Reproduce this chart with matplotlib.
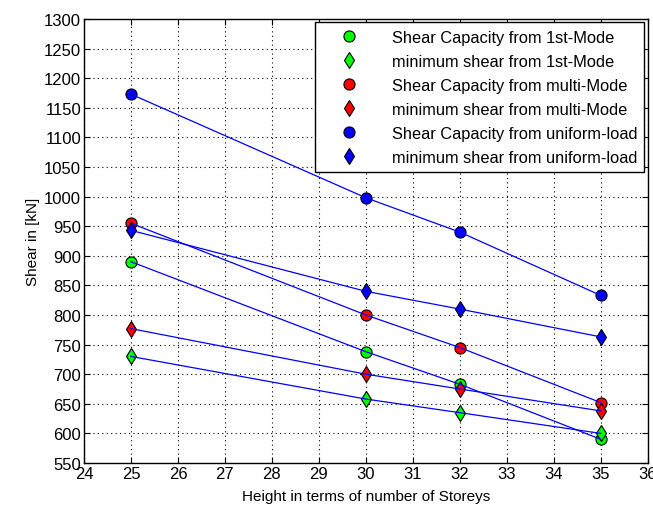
import numpy as np
import matplotlib
matplotlib.use('Agg')
import matplotlib.pyplot as plt

plt.rcParams['font.family'] = ['Liberation Sans', 'DejaVu Sans']

storeys = [25, 30, 32, 35]
cap_1st = [890, 738, 683, 590]
min_1st = [730, 658, 635, 600]
cap_multi = [955, 800, 745, 652]
min_multi = [777, 700, 675, 638]
cap_uniform = [1173, 998, 940, 833]
min_uniform = [943, 840, 810, 763]

series = [
    (cap_1st, 'o', '#00ff00', 'Shear Capacity from 1st-Mode'),
    (min_1st, 'd', '#00ff00', 'minimum shear from 1st-Mode'),
    (cap_multi, 'o', '#ff0000', 'Shear Capacity from multi-Mode'),
    (min_multi, 'd', '#ff0000', 'minimum shear from multi-Mode'),
    (cap_uniform, 'o', '#0000ff', 'Shear Capacity from uniform-load'),
    (min_uniform, 'd', '#0000ff', 'minimum shear from uniform-load'),
]

fig = plt.figure(figsize=(6.53, 5.10), dpi=100)
ax = fig.add_axes([0.1286, 0.0902, 0.8634, 0.8706])

for vals, mk, col, lab in series:
    ax.plot(storeys, vals, linestyle='none', marker=mk, markersize=8,
            markerfacecolor=col, markeredgecolor='k', markeredgewidth=0.8, label=lab, zorder=3)
for vals, mk, col, lab in series:
    ax.plot(storeys, vals, color='#0000ff', linewidth=0.9, zorder=4)

ax.set_xlim(24, 36)
ax.set_ylim(550, 1300)
ax.set_xticks(np.arange(24, 37, 1))
ax.set_yticks(np.arange(550, 1301, 50))
ax.tick_params(direction='in', labelsize=12, length=4, top=True, right=True, pad=2)
ax.grid(True, linestyle=(0, (1, 3)), color='k', linewidth=0.8)
for s in ax.spines.values():
    s.set_linewidth(1.0)

ax.set_xlabel('Height in terms of number of Storeys', fontsize=11, labelpad=6)
ax.set_ylabel('Shear in [kN]', fontsize=11, labelpad=3)

leg = ax.legend(loc='upper right', fontsize=11.8, fancybox=False, framealpha=1,
                edgecolor='k', borderaxespad=0.2, handletextpad=1.0, labelspacing=0.55,
                handlelength=3.2, borderpad=0.45)
leg.get_frame().set_linewidth(1.0)

fig.savefig('out.png', dpi=100)
